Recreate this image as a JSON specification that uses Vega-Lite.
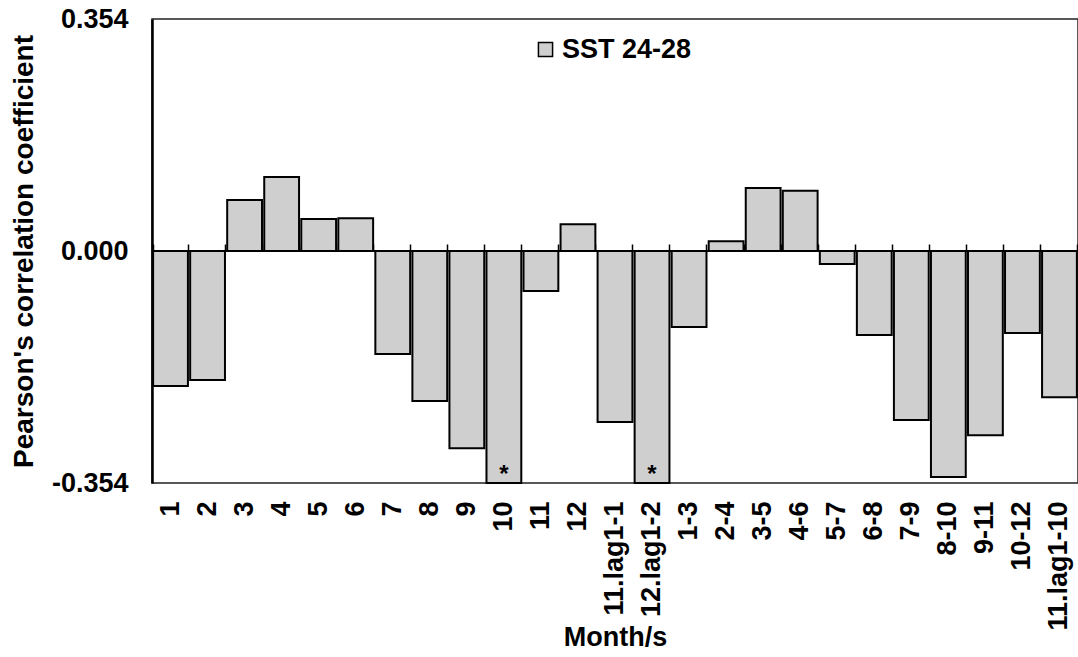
{
  "$schema": "https://vega.github.io/schema/vega-lite/v6.json",
  "autosize": {"type": "none"},
  "padding": {"left": 152, "top": 19, "right": 0, "bottom": 174},
  "width": 926,
  "height": 464,
  "background": "white",
  "config": {
    "font": "Liberation Sans",
    "view": {"stroke": "#222222", "strokeWidth": 1.5}
  },
  "data": {
    "values": [
      {"month": "1", "r": -0.206, "sig": ""},
      {"month": "2", "r": -0.197, "sig": ""},
      {"month": "3", "r": 0.078, "sig": ""},
      {"month": "4", "r": 0.113, "sig": ""},
      {"month": "5", "r": 0.049, "sig": ""},
      {"month": "6", "r": 0.050, "sig": ""},
      {"month": "7", "r": -0.157, "sig": ""},
      {"month": "8", "r": -0.229, "sig": ""},
      {"month": "9", "r": -0.301, "sig": ""},
      {"month": "10", "r": -0.354, "sig": "*"},
      {"month": "11", "r": -0.061, "sig": ""},
      {"month": "12", "r": 0.041, "sig": ""},
      {"month": "11.lag1-1", "r": -0.261, "sig": ""},
      {"month": "12.lag1-2", "r": -0.354, "sig": "*"},
      {"month": "1-3", "r": -0.116, "sig": ""},
      {"month": "2-4", "r": 0.015, "sig": ""},
      {"month": "3-5", "r": 0.096, "sig": ""},
      {"month": "4-6", "r": 0.092, "sig": ""},
      {"month": "5-7", "r": -0.020, "sig": ""},
      {"month": "6-8", "r": -0.128, "sig": ""},
      {"month": "7-9", "r": -0.258, "sig": ""},
      {"month": "8-10", "r": -0.345, "sig": ""},
      {"month": "9-11", "r": -0.281, "sig": ""},
      {"month": "10-12", "r": -0.125, "sig": ""},
      {"month": "11.lag1-10", "r": -0.223, "sig": ""}
    ]
  },
  "layer": [
    {
      "mark": {"type": "bar", "fill": "#d0cfd0", "stroke": "black", "strokeWidth": 2},
      "encoding": {
        "x": {
          "field": "month",
          "type": "nominal",
          "sort": null,
          "scale": {"paddingInner": 0.06, "paddingOuter": 0.03},
          "axis": {
            "orient": "bottom",
            "title": "Month/s",
            "titleFontSize": 27,
            "titleFontWeight": "bold",
            "titleColor": "black",
            "titleY": 141,
            "labelAngle": -90,
            "labelFontSize": 27,
            "labelFontWeight": "bold",
            "labelColor": "black",
            "labelPadding": 18,
            "ticks": false,
            "domain": false
          }
        },
        "y": {
          "field": "r",
          "type": "quantitative",
          "scale": {"domain": [-0.354, 0.354], "nice": false, "zero": true},
          "axis": {
            "title": "Pearson's correlation coefficient",
            "titleFontSize": 28,
            "titleFontWeight": "bold",
            "titleColor": "black",
            "titleX": -120,
            "titleBaseline": "alphabetic",
            "values": [-0.354, 0, 0.354],
            "labelExpr": "datum.value < 0 ? '-' + format(-datum.value, '.3f') : format(datum.value, '.3f')",
            "labelFontSize": 27,
            "labelFontWeight": "bold",
            "labelColor": "black",
            "labelPadding": 24,
            "ticks": false,
            "grid": false,
            "domainColor": "black",
            "domainWidth": 2.5
          }
        },
        "color": {
          "datum": "SST 24-28",
          "scale": {"range": ["#d0cfd0"]},
          "legend": {
            "title": null,
            "orient": "none",
            "legendX": 380,
            "legendY": 17,
            "symbolType": "square",
            "symbolSize": 200,
            "symbolStrokeColor": "black",
            "symbolStrokeWidth": 1.5,
            "symbolFillColor": "#d0cfd0",
            "labelFontSize": 27,
            "labelFontWeight": "bold",
            "labelColor": "black",
            "labelOffset": 3
          }
        }
      }
    },
    {
      "mark": {"type": "rule", "color": "black", "strokeWidth": 2},
      "encoding": {"y": {"datum": 0, "type": "quantitative"}}
    },
    {
      "mark": {"type": "text", "fontSize": 24, "fontWeight": "bold", "color": "black", "baseline": "middle", "dy": -8},
      "encoding": {
        "x": {
          "field": "month",
          "type": "nominal",
          "sort": null,
          "axis": {
            "orient": "top",
            "offset": -232,
            "title": null,
            "labels": false,
            "domain": false,
            "ticks": true,
            "tickBand": "extent",
            "tickSize": 7,
            "tickColor": "black",
            "tickWidth": 1.5
          }
        },
        "y": {"field": "r", "type": "quantitative"},
        "text": {"field": "sig"}
      }
    }
  ]
}
